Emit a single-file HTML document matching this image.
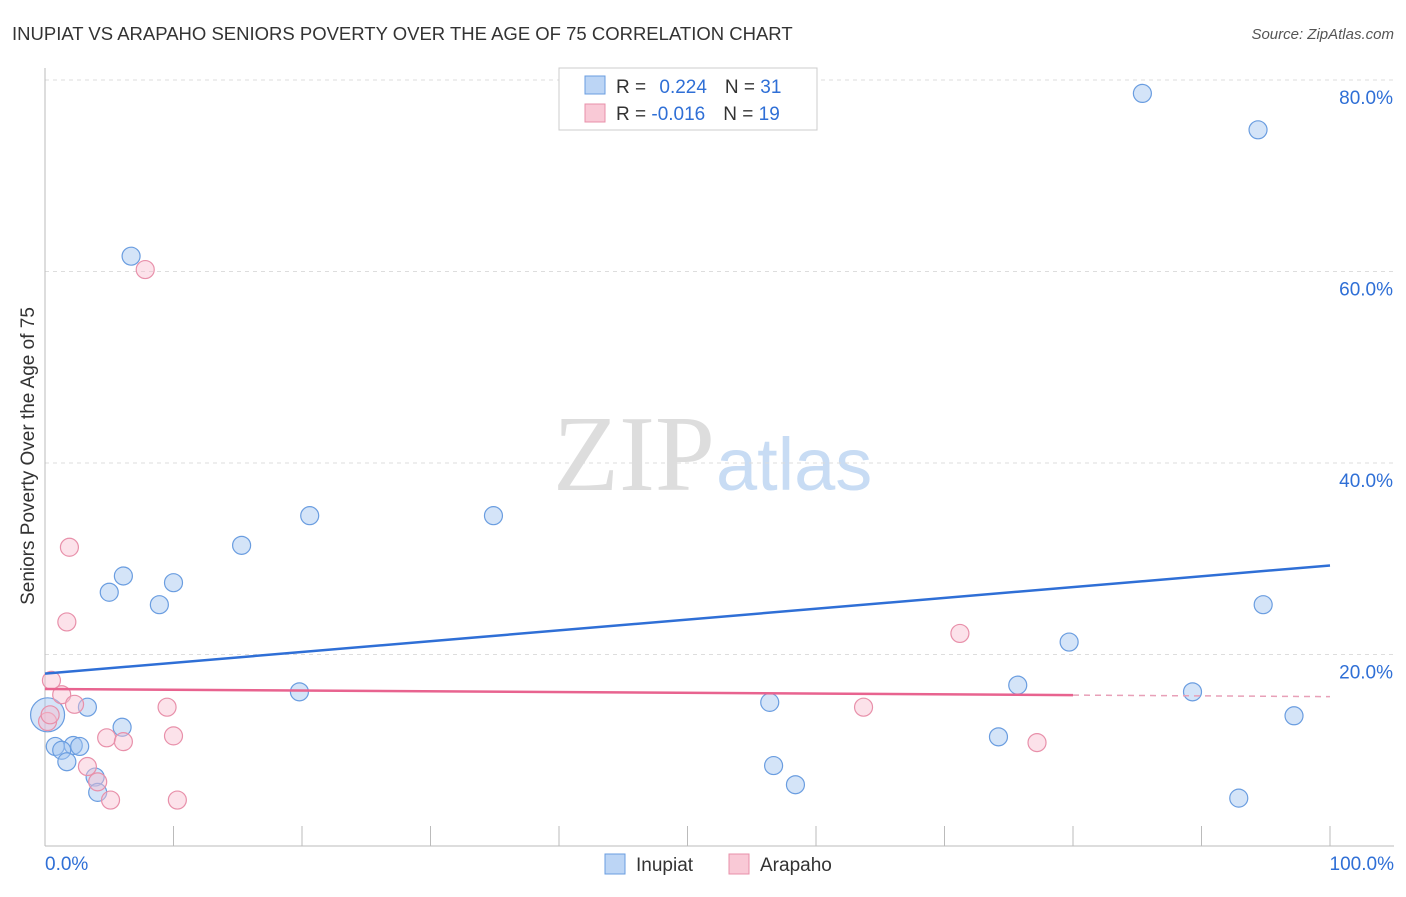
<!DOCTYPE html>
<html><head><meta charset="utf-8"><style>
body{margin:0;background:#fff;font-family:"Liberation Sans",sans-serif}
</style></head><body>
<svg id="c" width="1406" height="892" xmlns="http://www.w3.org/2000/svg">
<text x="12" y="40" font-size="18.5" fill="#333">INUPIAT VS ARAPAHO SENIORS POVERTY OVER THE AGE OF 75 CORRELATION CHART</text>
<text x="1394" y="39" font-size="15" fill="#555" font-style="italic" text-anchor="end">Source: ZipAtlas.com</text>
<text x="34" y="456" font-size="19" fill="#333" text-anchor="middle" transform="rotate(-90 34 456)">Seniors Poverty Over the Age of 75</text>
<text x="715" y="490" font-size="108" fill="#ddd" text-anchor="end" font-family="Liberation Serif">ZIP</text>
<text x="716" y="490" font-size="74" fill="#c8dcf4">atlas</text>
<g id="grid"></g><g id="axes"></g><g id="pts"></g><g id="lines"></g>
<g>
<rect x="559" y="68" width="258" height="62" fill="#fff" stroke="#ccc"/>
<rect x="585" y="76" width="20" height="18" fill="#bcd5f5" stroke="#6a9de0"/>
<rect x="585" y="104" width="20" height="18" fill="#f9c9d6" stroke="#e890aa"/>
<text x="616" y="93" font-size="19" fill="#333">R = <tspan fill="#2f6fd6" dx="8">0.224</tspan><tspan dx="18" fill="#333">N = </tspan><tspan fill="#2f6fd6">31</tspan></text>
<text x="616" y="120" font-size="19" fill="#333">R = <tspan fill="#2f6fd6">-0.016</tspan><tspan dx="18" fill="#333">N = </tspan><tspan fill="#2f6fd6">19</tspan></text>
</g>
<g>
<rect x="605" y="854" width="20" height="20" fill="#bcd5f5" stroke="#6a9de0"/>
<text x="636" y="871" font-size="19" fill="#333">Inupiat</text>
<rect x="729" y="854" width="20" height="20" fill="#f9c9d6" stroke="#e890aa"/>
<text x="760" y="871" font-size="19" fill="#333">Arapaho</text>
</g>
</svg>
<script>
const yTicks=[20,40,60,80];
const yTickLabels=["20.0%","40.0%","60.0%","80.0%"];
const xTickLabels=["0.0%","100.0%"];
const inupiatX=[85.4,94.4,6.7,20.6,34.9,15.3,6.1,10.0,5.0,8.9,94.8,79.7,75.7,19.8,89.3,56.4,3.3,6.0,97.2,74.2,0.8,2.2,2.7,1.3,1.7,56.7,3.9,58.4,4.1,92.9,0.2];
const inupiatY=[78.6,74.8,61.6,34.5,34.5,31.4,28.2,27.5,26.5,25.2,25.2,21.3,16.8,16.1,16.1,15.0,14.5,12.4,13.6,11.4,10.4,10.5,10.4,10.0,8.8,8.4,7.2,6.4,5.6,5.0,13.7];
const arapahoX=[7.8,1.9,1.7,71.2,0.5,1.3,2.3,9.5,63.7,10.0,4.8,6.1,77.2,3.3,4.1,5.1,10.3,0.2,0.4];
const arapahoY=[60.2,31.2,23.4,22.2,17.3,15.8,14.8,14.5,14.5,11.5,11.3,10.9,10.8,8.3,6.7,4.8,4.8,13.0,13.7];
const inupiatTrend=[18.0,29.3];
const arapahoTrend=[16.4,15.6];
const X=v=>45+v*12.85, Y=v=>846-v*9.575;
const NS="http://www.w3.org/2000/svg";
function mk(p,t,a){const e=document.createElementNS(NS,t);for(const k in a)e.setAttribute(k,a[k]);document.getElementById(p).appendChild(e);return e;}
yTicks.forEach((t,i)=>{
 let l=mk('grid','line',{x1:45,x2:1394,y1:Y(t),y2:Y(t),stroke:'#ddd','stroke-dasharray':'4 4'});
 
 
 let tx=mk('grid','text',{x:1393,y:Y(t)+24,'font-size':19,fill:'#2f6fd6','text-anchor':'end'});tx.textContent=yTickLabels[i];
 
 
});
let ya=mk('axes','line',{x1:45,x2:45,y1:68,y2:846,stroke:'#bbb'});


let xa=mk('axes','line',{x1:45,x2:1394,y1:846,y2:846,stroke:'#bbb'});


for(let i=1;i<=10;i++){let t=mk('axes','line',{x1:X(i*10),x2:X(i*10),y1:826,y2:846,stroke:'#bbb'});
 
 }
[[0,'start',45],[1,'end',1394]].forEach(([i,a,x])=>{let t=mk('axes','text',{x:x,y:870,'font-size':19,fill:'#2f6fd6','text-anchor':a});t.textContent=xTickLabels[i];
 
 });
inupiatX.forEach((v,i)=>{let r=i==inupiatX.length-1?17:9;
 let c=mk('pts','circle',{cx:X(v),cy:Y(inupiatY[i]),r:r,fill:'rgba(160,195,240,0.45)',stroke:'#6a9de0','stroke-width':1.2});
 
 });
arapahoX.forEach((v,i)=>{let c=mk('pts','circle',{cx:X(v),cy:Y(arapahoY[i]),r:9,fill:'rgba(248,190,208,0.45)',stroke:'#e890aa','stroke-width':1.2});
 
 });
let bl=mk('lines','line',{x1:X(0),y1:Y(inupiatTrend[0]),x2:X(100),y2:Y(inupiatTrend[1]),stroke:'#2f6fd6','stroke-width':2.5});


const pm=arapahoTrend[0]+(arapahoTrend[1]-arapahoTrend[0])*0.8;
let pl=mk('lines','line',{x1:X(0),y1:Y(arapahoTrend[0]),x2:X(80),y2:Y(pm),stroke:'#e8638f','stroke-width':2.5});


let pd=mk('lines','line',{x1:X(80),y1:Y(pm),x2:X(100),y2:Y(arapahoTrend[1]),stroke:'#e8a0b8','stroke-width':1.5,'stroke-dasharray':'6 5'});


</script>
</body></html>
